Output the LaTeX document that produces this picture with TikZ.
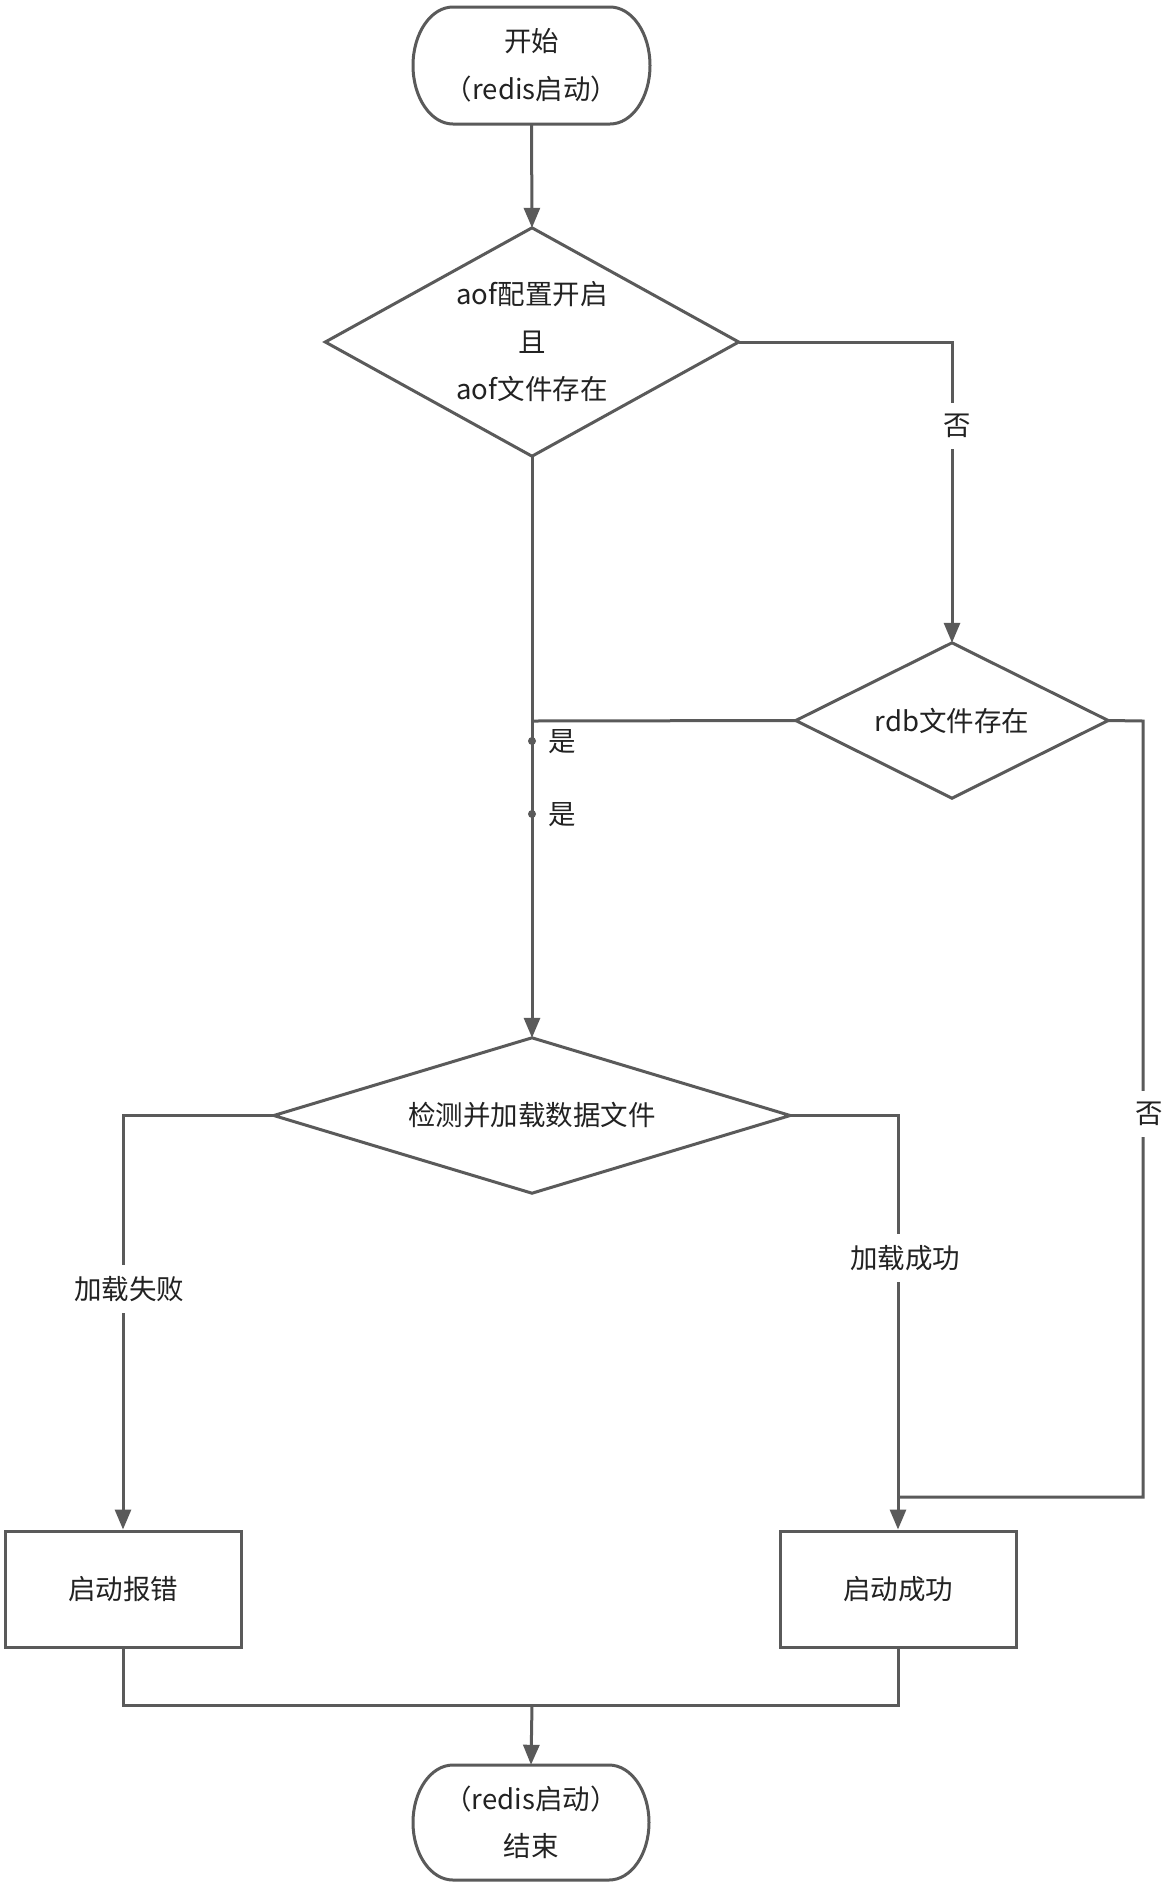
\documentclass[tikz,border=0pt]{standalone}
\usepackage{fontspec}
\setmainfont{Noto Sans CJK SC}
\usetikzlibrary{arrows.meta}
\definecolor{ln}{HTML}{5A5A5A}
\definecolor{tx}{HTML}{222222}
\begin{document}
\begin{tikzpicture}[x=1pt,y=-1pt,
  every node/.style={font=\fontsize{27.5}{47.5}\selectfont, text=tx, align=center, inner sep=0pt},
  box/.style={draw=ln, line width=3pt, rectangle, minimum width=236pt, minimum height=116pt},
  holder/.style={rectangle, draw=none},
  shapeline/.style={draw=ln, line width=3pt, line join=miter},
  conn/.style={draw=ln, line width=3pt},
  arr/.style={conn, -{Triangle[length=20pt,width=16pt]}},
  lbl/.style={fill=white, inner sep=11pt},
  side/.style={anchor=center}
]
\useasboundingbox (0,0) rectangle (1172,1888);
\fill[white] (0,0) rectangle (1172,1888);

% start terminal
\node[holder, minimum width=237pt, minimum height=117pt] (start) at (531.5,65.5) {开始\\（redis启动）};
\draw[shapeline] (453,7) -- (610,7) .. controls (632.1,7) and (650,33.2) .. (650,65.5) .. controls (650,97.8) and (632.1,124) .. (610,124) -- (453,124) .. controls (430.9,124) and (413,97.8) .. (413,65.5) .. controls (413,33.2) and (430.9,7) .. (453,7) -- cycle;

% decision 1
\node[holder, minimum width=413pt, minimum height=228pt] (d1) at (532,342) {aof配置开启\\且\\aof文件存在};
\draw[shapeline] (d1.north) -- (d1.east) -- (d1.south) -- (d1.west) -- cycle;

% decision rdb
\node[holder, minimum width=312pt, minimum height=155pt] (rdb) at (952,720.5) {rdb文件存在};
\draw[shapeline] (rdb.north) -- (rdb.east) -- (rdb.south) -- (rdb.west) -- cycle;

% decision 3
\node[holder, minimum width=516pt, minimum height=155pt] (d3) at (532,1115.5) {检测并加载数据文件};
\draw[shapeline] (d3.north) -- (d3.east) -- (d3.south) -- (d3.west) -- cycle;

% boxes
\node[box] (lbox) at (123,1589) {启动报错};
\node[box] (rbox) at (898,1589) {启动成功};

% end terminal
\node[holder, minimum width=236pt, minimum height=115pt] (end) at (531,1822.5) {（redis启动）\\结束};
\draw[shapeline] (453,1765) -- (609,1765) .. controls (631.1,1765) and (649,1790.7) .. (649,1822.5) .. controls (649,1854.3) and (631.1,1880) .. (609,1880) -- (453,1880) .. controls (430.9,1880) and (413,1854.3) .. (413,1822.5) .. controls (413,1790.7) and (430.9,1765) .. (453,1765) -- cycle;

% helper coordinates
\coordinate (m1) at (532,721);
\coordinate (r1) at (1143,721);
\coordinate (r2) at (1143,1497);
\coordinate (r3) at (898,1497);
\coordinate (b1) at (123,1705);
\coordinate (b2) at (898,1705);
\coordinate (bj) at (532,1705);

% connectors
\draw[arr] (start.south) -- (d1.north);
\draw[arr] (d1.east) -| (rdb.north);
\draw[arr] (d1.south) -- (d3.north);
\draw[conn] (rdb.west) -- (m1);
\draw[conn] (rdb.east) -- (r1) -- (r2) -- (r3);
\draw[arr] (d3.west) -| (lbox.north);
\draw[arr] (d3.east) -| (rbox.north);
\draw[conn] (lbox.south) -- (b1) -- (b2) -- (rbox.south);
\draw[arr] (bj) -- (end.north);

% dots on the yes line
\fill[ln] (532,741) circle[radius=4pt];
\fill[ln] (532,814) circle[radius=4pt];

% labels
\node[lbl] (no1) at (957,426) {否};
\node[lbl] (no2) at (1149,1114) {否};
\node[lbl] (fail) at (129,1289) {加载失败};
\node[lbl] (succ) at (905,1258) {加载成功};
\node[side] (yes1) at (562,742) {是};
\node[side] (yes2) at (562,815) {是};
\end{tikzpicture}
\end{document}
